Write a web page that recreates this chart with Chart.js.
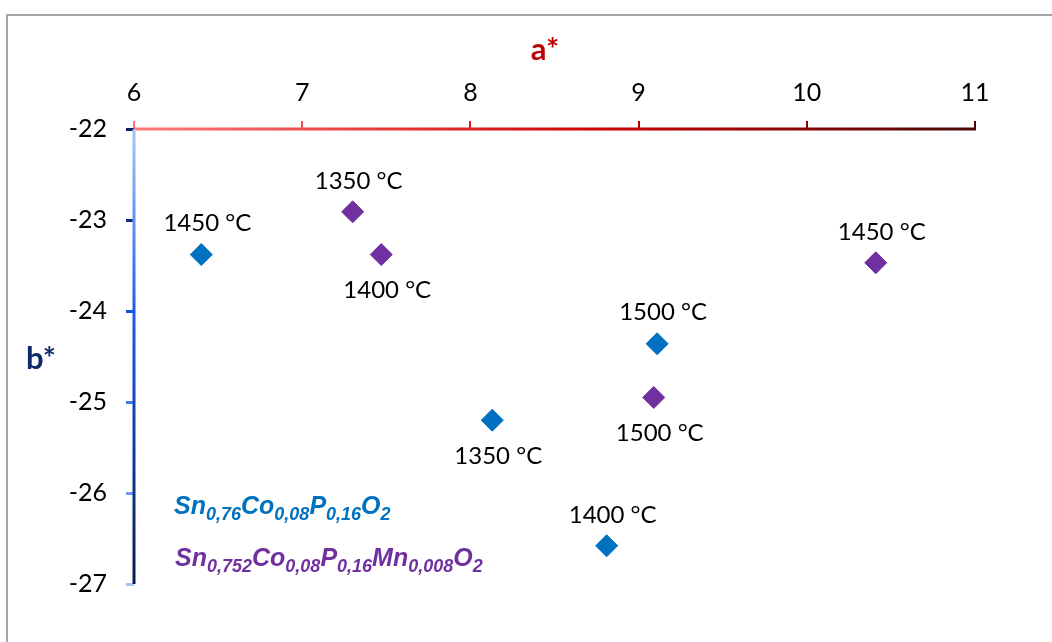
<!DOCTYPE html>
<html><head><meta charset="utf-8">
<script src="https://cdn.jsdelivr.net/npm/chart.js@4/dist/chart.umd.min.js"></script>
<style>
html,body{margin:0;padding:0;background:#fff;}
#wrap{position:relative;width:1052px;height:642px;overflow:hidden;background:#fff;}
#frame{position:absolute;left:6px;top:14px;width:1100px;height:700px;border-left:2px solid #a6a6a6;border-top:2px solid #a6a6a6;}
canvas{position:absolute;left:0;top:0;}
.leg{position:absolute;font-family:"Liberation Sans",Arial,sans-serif;font-weight:bold;font-style:italic;font-size:25px;white-space:nowrap;line-height:1;}
.leg sub{font-size:18px;vertical-align:baseline;position:relative;top:6px;}
</style></head>
<body>
<div id="wrap">
<div id="frame"></div>
<canvas id="c" width="1052" height="642"></canvas>
<div class="leg" id="leg1" style="left:174px;top:493px;color:#0070c0;">Sn<sub>0,76</sub>Co<sub>0,08</sub>P<sub>0,16</sub>O<sub>2</sub></div>
<div class="leg" id="leg2" style="left:175px;top:545px;color:#7030a0;">Sn<sub>0,752</sub>Co<sub>0,08</sub>P<sub>0,16</sub>Mn<sub>0,008</sub>O<sub>2</sub></div>
</div>
<script>
// ---- data ----
const blueA = [6.40, 9.11, 8.13, 8.81];
const blueB = [-23.38, -24.36, -25.20, -26.58];
const blueLabels = ['1450 °C', '1500 °C', '1350 °C', '1400 °C'];
const bluePlace = ['above', 'above', 'below', 'above'];

const purpleA = [7.30, 7.47, 10.41, 9.09];
const purpleB = [-22.91, -23.38, -23.47, -24.95];
const purpleLabels = ['1350 °C', '1400 °C', '1450 °C', '1500 °C'];
const purplePlace = ['above', 'below', 'above', 'below'];

const xTicks = [6, 7, 8, 9, 10, 11];
const yTicks = [-27, -26, -25, -24, -23, -22];
const xTitle = 'a*';
const yTitle = 'b*';

const xTickColors = ['#ff7373', '#f04848', '#e01818', '#b80000', '#7c0808', '#4a0606'];
const yTickColors = ['#a3c2f7', '#6f9ef0', '#3f7ce8', '#1552d6', '#0a2f8a', '#0a2258'];

const toPts = (xs, ys) => xs.map((x, i) => ({x: x, y: ys[i]}));

Chart.defaults.font.family = 'Lato';
Chart.defaults.font.size = 25;
Chart.defaults.color = '#000';

const axisPlugin = {
  id: 'axisLines',
  beforeDatasetsDraw(chart) {
    const ctx = chart.ctx;
    const xs = chart.scales.x, ys = chart.scales.y;
    const y0 = ys.getPixelForValue(-22);
    const xl = xs.getPixelForValue(6), xr = xs.getPixelForValue(11);
    const yb = ys.getPixelForValue(-27);
    ctx.save();
    let g = ctx.createLinearGradient(xl, 0, xr, 0);
    g.addColorStop(0, '#ff7b7b');
    g.addColorStop(0.55, '#d00000');
    g.addColorStop(1, '#4a0808');
    ctx.strokeStyle = g;
    ctx.lineWidth = 3;
    ctx.beginPath(); ctx.moveTo(xl, y0); ctx.lineTo(xr + 1, y0); ctx.stroke();
    g = ctx.createLinearGradient(0, y0, 0, yb);
    g.addColorStop(0, '#a8c6f8');
    g.addColorStop(0.4, '#1c5ce6');
    g.addColorStop(1, '#0a1a52');
    ctx.strokeStyle = g;
    ctx.beginPath(); ctx.moveTo(xl, y0); ctx.lineTo(xl, yb); ctx.stroke();
    ctx.restore();
  },
  afterDatasetsDraw(chart) {
    const ctx = chart.ctx;
    ctx.save();
    ctx.font = '24px Lato, "Open Sans", sans-serif';
    ctx.fillStyle = '#000';
    ctx.textAlign = 'center';
    ctx.textBaseline = 'middle';
    chart.data.datasets.forEach((ds, di) => {
      const meta = chart.getDatasetMeta(di);
      meta.data.forEach((pt, i) => {
        const off = ds.place[i] === 'above' ? -31 : 36;
        ctx.fillText(ds.labels[i], pt.x + 6, pt.y + off);
      });
    });
    // axis titles
    ctx.font = 'bold 31px Lato, "Open Sans", sans-serif';
    ctx.fillStyle = '#c00000';
    ctx.fillText(xTitle, 545, 50);
    ctx.fillStyle = '#0f2a6a';
    ctx.fillText(yTitle, 41, 359);
    ctx.restore();
  }
};

new Chart(document.getElementById('c'), {
  type: 'scatter',
  data: {
    datasets: [
      {data: toPts(blueA, blueB), labels: blueLabels, place: bluePlace,
       pointStyle: 'rectRot', pointRadius: 11, pointHoverRadius: 11,
       backgroundColor: '#0070c0', borderColor: '#0070c0', borderWidth: 1},
      {data: toPts(purpleA, purpleB), labels: purpleLabels, place: purplePlace,
       pointStyle: 'rectRot', pointRadius: 11, pointHoverRadius: 11,
       backgroundColor: '#7030a0', borderColor: '#7030a0', borderWidth: 1}
    ]
  },
  options: {
    responsive: false,
    animation: false,
    events: [],
    layout: {padding: {left: 0, top: 0, right: 77, bottom: 58}},
    plugins: {legend: {display: false}, tooltip: {enabled: false}},
    scales: {
      x: {
        type: 'linear', position: 'top', min: 6, max: 11,
        afterFit: s => { s.height = 129; },
        afterBuildTicks: s => { s.ticks = xTicks.map(v => ({value: v})); },
        ticks: {font: {family: 'Lato', size: 25}, color: '#000', padding: 13},
        grid: {drawOnChartArea: false, drawTicks: true, tickLength: 8, lineWidth: 2,
               color: c => xTickColors[c.index] || '#c00000'},
        border: {display: false}
      },
      y: {
        type: 'linear', position: 'left', min: -27, max: -22,
        afterFit: s => { s.width = 134; },
        afterBuildTicks: s => { s.ticks = yTicks.map(v => ({value: v})); },
        ticks: {font: {family: 'Lato', size: 25}, color: '#000', padding: 19},
        grid: {drawOnChartArea: false, drawTicks: true, tickLength: 8, lineWidth: 3,
               color: c => yTickColors[c.index] || '#1c5ce6'},
        border: {display: false}
      }
    }
  },
  plugins: [axisPlugin]
});
</script>
</body></html>
